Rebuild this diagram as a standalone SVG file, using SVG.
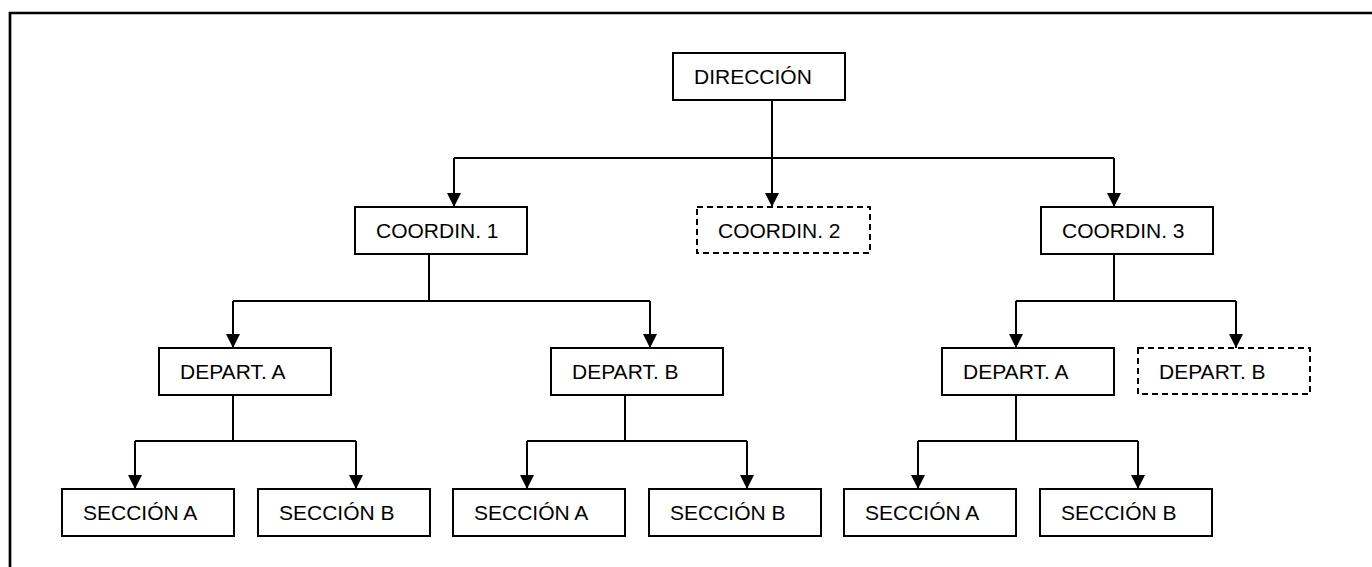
<svg xmlns="http://www.w3.org/2000/svg" width="1372" height="567" viewBox="0 0 1372 567">
  <defs>
    <marker id="arrow" viewBox="0 0 14 14" refX="14" refY="7" markerWidth="14" markerHeight="14" markerUnits="userSpaceOnUse" orient="auto">
      <path d="M0,0 L14,7 L0,14 Z" fill="#000"/>
    </marker>
    <style>
      .box { fill: #fff; stroke: #000; stroke-width: 2; }
      .dashed { stroke-dasharray: 6 4; }
      .label { font-family: "Liberation Sans", Arial, sans-serif; font-size: 21px; fill: #000; }
      .link { fill: none; stroke: #000; stroke-width: 2; }
      .arrow { fill: none; stroke: #000; stroke-width: 2; marker-end: url(#arrow); }
    </style>
  </defs>
  <rect width="1372" height="567" fill="#fff"/>

  <!-- page frame (top and left edges only) -->
  <path d="M10,567 V13 H1372" fill="none" stroke="#000" stroke-width="2.7"/>

  <!-- connectors -->
  <g id="connectors">
    <!-- dirección to coordinaciones -->
    <path class="link" d="M772,100 V158 M454,158 H1114"/>
    <path class="arrow" d="M454,158 V207"/>
    <path class="arrow" d="M772,158 V207"/>
    <path class="arrow" d="M1114,158 V207"/>

    <!-- coordin. 1 to departamentos -->
    <path class="link" d="M429,254 V301 M233,301 H650"/>
    <path class="arrow" d="M233,301 V348"/>
    <path class="arrow" d="M650,301 V348"/>

    <!-- coordin. 3 to departamentos -->
    <path class="link" d="M1114,254 V301 M1016,301 H1236"/>
    <path class="arrow" d="M1016,301 V348"/>
    <path class="arrow" d="M1236,301 V348"/>

    <!-- depart. A (coordin. 1) to secciones -->
    <path class="link" d="M233,395 V441 M135,441 H356"/>
    <path class="arrow" d="M135,441 V489"/>
    <path class="arrow" d="M356,441 V489"/>

    <!-- depart. B (coordin. 1) to secciones -->
    <path class="link" d="M625,395 V441 M527,441 H747"/>
    <path class="arrow" d="M527,441 V489"/>
    <path class="arrow" d="M747,441 V489"/>

    <!-- depart. A (coordin. 3) to secciones -->
    <path class="link" d="M1016,395 V441 M918,441 H1138"/>
    <path class="arrow" d="M918,441 V489"/>
    <path class="arrow" d="M1138,441 V489"/>
  </g>

  <g id="direccion">
    <rect class="box" x="673" y="53" width="172" height="47"/>
    <text class="label" x="694" y="84">DIRECCIÓN</text>
  </g>

  <g id="coordin-1">
    <rect class="box" x="355" y="207" width="172" height="47"/>
    <text class="label" x="376" y="238">COORDIN. 1</text>
  </g>
  <g id="coordin-2">
    <rect class="box dashed" x="697" y="207" width="173" height="46"/>
    <text class="label" x="718" y="238">COORDIN. 2</text>
  </g>
  <g id="coordin-3">
    <rect class="box" x="1041" y="207" width="172" height="47"/>
    <text class="label" x="1062" y="238">COORDIN. 3</text>
  </g>

  <g id="c1-depart-a">
    <rect class="box" x="159" y="348" width="172" height="47"/>
    <text class="label" x="180" y="379">DEPART. A</text>
  </g>
  <g id="c1-depart-b">
    <rect class="box" x="551" y="348" width="172" height="47"/>
    <text class="label" x="572" y="379">DEPART. B</text>
  </g>
  <g id="c3-depart-a">
    <rect class="box" x="942" y="348" width="172" height="47"/>
    <text class="label" x="963" y="379">DEPART. A</text>
  </g>
  <g id="c3-depart-b">
    <rect class="box dashed" x="1138" y="348" width="172" height="46"/>
    <text class="label" x="1159" y="379">DEPART. B</text>
  </g>

  <g id="c1a-seccion-a">
    <rect class="box" x="62" y="489" width="172" height="47"/>
    <text class="label" x="83" y="520">SECCIÓN A</text>
  </g>
  <g id="c1a-seccion-b">
    <rect class="box" x="258" y="489" width="172" height="47"/>
    <text class="label" x="279" y="520">SECCIÓN B</text>
  </g>
  <g id="c1b-seccion-a">
    <rect class="box" x="453" y="489" width="172" height="47"/>
    <text class="label" x="474" y="520">SECCIÓN A</text>
  </g>
  <g id="c1b-seccion-b">
    <rect class="box" x="649" y="489" width="172" height="47"/>
    <text class="label" x="670" y="520">SECCIÓN B</text>
  </g>
  <g id="c3a-seccion-a">
    <rect class="box" x="844" y="489" width="172" height="47"/>
    <text class="label" x="865" y="520">SECCIÓN A</text>
  </g>
  <g id="c3a-seccion-b">
    <rect class="box" x="1040" y="489" width="172" height="47"/>
    <text class="label" x="1061" y="520">SECCIÓN B</text>
  </g>
</svg>
